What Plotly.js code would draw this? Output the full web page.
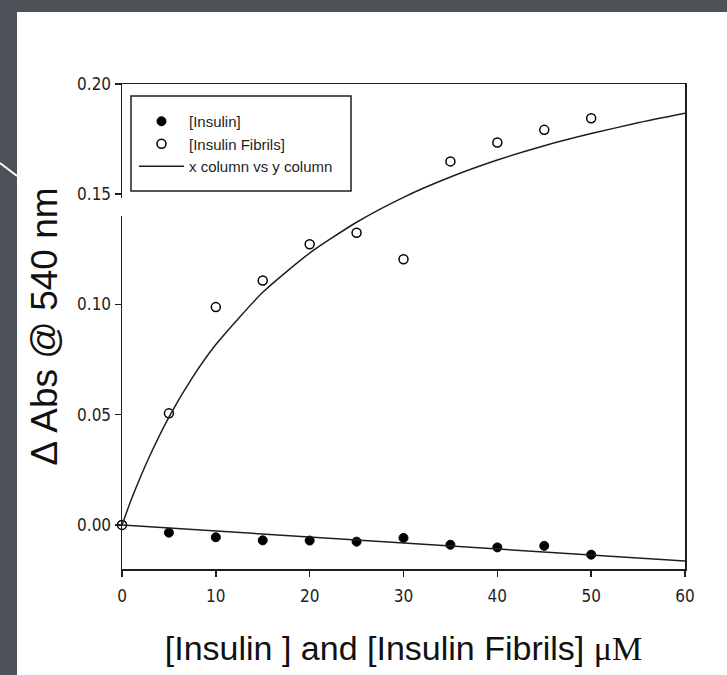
<!DOCTYPE html>
<html>
<head>
<meta charset="utf-8">
<script src="https://cdn.plot.ly/plotly-3.0.1.min.js"></script>
<style>
  html, body { margin: 0; padding: 0; background: #4d5158; }
  #chart { width: 727px; height: 675px; }
</style>
</head>
<body>
<div id="chart"></div>
<script>
// ---- data ----
const concentration = [0, 5, 10, 15, 20, 25, 30, 35, 40, 45, 50];
const insulin = [0, -0.0035, -0.0056, -0.0070, -0.0071, -0.0076, -0.0059, -0.0090, -0.0102, -0.0095, -0.0135];
const insulinFibrils = [0, 0.0506, 0.0988, 0.1109, 0.1273, 0.1325, 0.1205, 0.1649, 0.1735, 0.1792, 0.1845];

// fitted curves as they appear in the picture
const fibrilFitX = [0, 1, 2, 3, 5, 7.5, 10, 15, 20, 25, 30, 35, 40, 45, 50, 55, 60];
const fibrilFitY = [0, 0.0116, 0.0221, 0.0317, 0.0489, 0.0668, 0.0818, 0.1055, 0.1233, 0.1373, 0.1486, 0.1578, 0.1655, 0.1720, 0.1775, 0.1824, 0.1867];
const insulinFitX = [0, 60];
const insulinFitY = [0, -0.0164];

const xTicks = [0, 10, 20, 30, 40, 50, 60];
const yTicks = [0.00, 0.05, 0.10, 0.15, 0.20];

const seriesNames = ['[Insulin]', '[Insulin Fibrils]', 'x column vs y column'];
const xTitle = '[Insulin ] and [Insulin Fibrils] <span style="font-family:\'Liberation Serif\', \'DejaVu Serif\', serif">\u03bcM</span>';
const yTitle = '\u0394 Abs @ 540 nm';

// ---- styling ----
const narrow = "'DejaVu Sans Condensed', 'Liberation Sans Narrow', sans-serif";
const sans = "'Liberation Sans', Arial, Helvetica, sans-serif";
const ink = '#1e1e1e';

const traces = [
  {
    x: concentration, y: insulin, name: seriesNames[0],
    type: 'scatter', mode: 'markers', cliponaxis: false,
    marker: { symbol: 'circle', size: 9, color: '#000000', line: { color: '#000000', width: 1 } }
  },
  {
    x: concentration, y: insulinFibrils, name: seriesNames[1],
    type: 'scatter', mode: 'markers', cliponaxis: false,
    marker: { symbol: 'circle', size: 9, color: '#ffffff', line: { color: '#000000', width: 1.5 } }
  },
  {
    x: fibrilFitX, y: fibrilFitY, name: seriesNames[2],
    type: 'scatter', mode: 'lines', cliponaxis: false,
    line: { color: ink, width: 1.5, shape: 'spline', smoothing: 0.6 }
  },
  {
    x: insulinFitX, y: insulinFitY, name: seriesNames[2], showlegend: false,
    type: 'scatter', mode: 'lines', cliponaxis: false,
    line: { color: ink, width: 1.5 }
  }
];

// plot area: left 122, right 685, top 84, bottom 569
const L = 122, R = 685, T = 84, B = 569, W = 727, H = 675;
const px = v => (v - L) / (R - L);
const py = v => (B - v) / (B - T);

const layout = {
  width: W, height: H,
  paper_bgcolor: '#4d5158',
  plot_bgcolor: '#ffffff',
  margin: { l: L, r: W - R, t: T, b: H - B, pad: 0 },
  showlegend: true,
  legend: {
    x: px(134), y: py(105), xanchor: 'left', yanchor: 'top',
    bgcolor: 'rgba(0,0,0,0)', borderwidth: 0,
    font: { family: sans, size: 15, color: ink },
    tracegroupgap: 0, itemwidth: 45
  },
  xaxis: {
    range: [0, 60], tickvals: xTicks, ticktext: xTicks.map(String),
    ticks: 'outside', ticklen: 6, tickwidth: 1.5, tickcolor: ink,
    showline: true, linecolor: ink, linewidth: 1.5, mirror: true,
    showgrid: false, zeroline: false, ticklabelstandoff: 5,
    tickfont: { family: narrow, size: 17, color: ink },
    title: { text: xTitle, font: { family: sans, size: 34, color: '#111' }, standoff: 31 }
  },
  yaxis: {
    range: [-0.02, 0.20], tickvals: yTicks, ticktext: yTicks.map(v => v.toFixed(2)),
    ticks: 'outside', ticklen: 6, tickwidth: 1.5, tickcolor: ink,
    showline: true, linecolor: ink, linewidth: 1.5, mirror: true,
    showgrid: false, zeroline: false,
    tickfont: { family: narrow, size: 17, color: ink },
    title: { text: yTitle, font: { family: sans, size: 37, color: '#111' }, standoff: 8 }
  },
  shapes: [
    // white slide panel behind the chart
    { type: 'rect', xref: 'paper', yref: 'paper', layer: 'below',
      x0: px(17), x1: px(W + 2), y0: py(H + 2), y1: py(12),
      fillcolor: '#ffffff', line: { width: 0 } },
    // slide decoration stroke on the dark margin
    { type: 'line', xref: 'paper', yref: 'paper', layer: 'above',
      x0: px(0), y0: py(163), x1: px(17), y1: py(176),
      line: { color: '#ffffff', width: 2 } },
    // small break in the left axis
    { type: 'line', xref: 'paper', yref: 'paper', layer: 'above',
      x0: px(122), y0: py(198), x1: px(122), y1: py(216),
      line: { color: '#ffffff', width: 4 } },
    // legend frame
    { type: 'rect', xref: 'paper', yref: 'paper', layer: 'above',
      x0: px(131), x1: px(351), y0: py(191), y1: py(96),
      fillcolor: 'rgba(0,0,0,0)', line: { color: ink, width: 1.5 } }
  ]
};

Plotly.newPlot('chart', traces, layout, { displayModeBar: false, staticPlot: true });
</script>
</body>
</html>
